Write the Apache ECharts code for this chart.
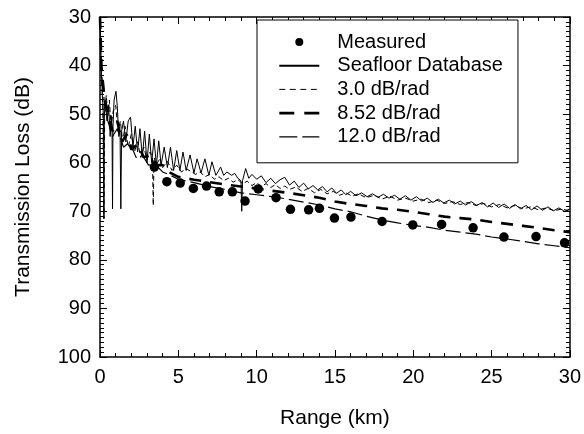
<!DOCTYPE html>
<html><head><meta charset="utf-8">
<script src="https://cdn.jsdelivr.net/npm/echarts@6/dist/echarts.min.js"></script>
<style>html,body{margin:0;padding:0;background:#fff}#c{width:584px;height:434px}</style>
</head><body><div id="c"></div>
<script>
var xTicks = [0, 5, 10, 15, 20, 25, 30];
var yTicks = [30, 40, 50, 60, 70, 80, 90, 100];
var measured = [[3.47,60.9],[4.27,63.9],[5.12,64.2],[5.96,65.3],[6.80,64.8],[7.61,66.0],[8.45,66.0],[9.26,67.9],[10.10,65.4],[11.24,67.2],[12.16,69.6],[13.32,69.7],[14.01,69.4],[14.97,71.4],[16.02,71.2],[18.01,72.1],[19.97,72.8],[21.81,72.7],[23.82,73.4],[25.79,75.3],[27.84,75.2],[29.66,76.5]];
var seafloor = [[0,30],[0.05,36.4],[0.1,41.8],[0.15,46.1],[0.2,49.3],[0.22,51.4],[0.25,71.5],[0.28,48.2],[0.35,47.1],[0.45,51.4],[0.55,48.2],[0.65,54.6],[0.72,50.3],[0.77,53.5],[0.8,69.5],[0.83,52.5],[0.9,47.1],[1.02,45.3],[1.1,48.2],[1.2,54.6],[1.28,53.5],[1.33,69.5],[1.38,53.5],[1.5,51.4],[1.65,55.7],[1.8,51.4],[1.95,50.6],[2.1,56.8],[2.25,52.5],[2.4,57.8],[2.55,53.0],[2.7,58.9],[2.85,53.5],[3.0,60.0],[3.15,54.1],[3.3,60.0],[3.45,55.1],[3.6,60.5],[3.75,55.5],[3.9,60.5],[4.1,56.8],[4.3,61.0],[4.5,56.8],[4.7,61.6],[4.9,57.5],[5.1,61.6],[5.3,57.8],[5.5,61.6],[5.75,58.4],[6.0,62.1],[6.2,59.2],[6.45,62.1],[6.7,59.2],[6.95,62.6],[7.15,59.8],[7.4,62.6],[7.7,60.9],[7.9,62.6],[8.1,61.9],[8.4,62.6],[8.6,62.2],[8.8,63.2],[9.0,63.7],[9.05,70.0],[9.1,63.7],[9.3,61.2],[9.5,63.2],[9.7,62.4],[10.0,63.4],[10.3,62.7],[10.6,64.1],[10.9,63.2],[11.2,64.3],[11.5,63.5],[11.8,63.0],[12.1,64.6],[12.4,63.8],[12.7,65.1],[13.0,64.2],[13.3,65.4],[13.6,64.7],[13.9,65.6],[14.2,64.9],[14.5,66.0],[14.8,65.2],[15.1,66.3],[15.4,65.6],[15.7,66.6],[16.0,65.9],[16.35,66.8],[16.7,66.2],[17.05,67.0],[17.4,66.4],[17.75,67.1],[18.1,66.5],[18.45,67.3],[18.8,66.7],[19.15,67.5],[19.5,66.8],[19.85,67.7],[20.2,67.0],[20.55,67.9],[20.9,67.3],[21.25,68.2],[21.6,67.5],[21.95,68.3],[22.3,67.7],[22.65,68.5],[23.0,67.9],[23.35,68.7],[23.7,68.0],[24.05,68.8],[24.4,68.2],[24.75,69.1],[25.1,68.3],[25.45,69.2],[25.8,68.5],[26.15,69.4],[26.5,68.6],[26.85,69.5],[27.2,68.8],[27.55,69.7],[27.9,68.9],[28.25,69.8],[28.6,69.1],[28.95,69.9],[29.3,69.3],[29.65,70.0],[30.0,69.5]];
var rad30 = [[0,30],[0.05,37.5],[0.1,42.8],[0.18,48.2],[0.25,71.5],[0.3,49.3],[0.4,46.1],[0.5,50.3],[0.6,47.1],[0.7,52.5],[0.85,49.3],[1.0,48.2],[1.15,53.5],[1.3,51.4],[1.45,55.7],[1.6,52.5],[1.8,56.8],[2.0,54.1],[2.2,57.8],[2.4,55.7],[2.6,58.9],[2.8,56.8],[3.0,59.4],[3.2,57.8],[3.35,58.9],[3.4,68.8],[3.45,58.9],[3.6,60.5],[3.8,59.1],[4.0,61.0],[4.3,59.7],[4.6,61.6],[4.9,60.5],[5.2,61.9],[5.5,61.2],[5.8,61.8],[6.1,62.4],[6.4,61.9],[6.7,62.9],[7.0,62.4],[7.3,63.4],[7.6,62.9],[7.9,63.7],[8.2,63.2],[8.5,64.0],[8.8,63.5],[9.1,64.3],[9.4,63.8],[9.7,64.7],[10.0,64.1],[10.3,64.9],[10.6,64.3],[10.9,65.1],[11.2,64.5],[11.5,65.3],[11.8,64.8],[12.1,65.5],[12.5,65.0],[12.9,65.9],[13.3,65.3],[13.7,66.2],[14.1,65.5],[14.5,66.4],[14.9,65.9],[15.3,66.7],[15.7,66.2],[16.1,66.9],[16.5,66.4],[17,67.2],[17.5,66.7],[18,67.5],[18.5,66.9],[19,67.7],[19.5,67.3],[20,67.9],[20.5,67.5],[21,68.2],[21.5,67.7],[22,68.4],[22.5,68.0],[23,68.6],[23.5,68.2],[24,68.8],[24.5,68.4],[25,69.1],[25.5,68.6],[26,69.3],[26.5,68.8],[27,69.5],[27.5,69.1],[28,69.7],[28.5,69.3],[29,69.9],[29.5,69.5],[30,70.0]];
var rad852 = [[0,30],[0.1,40.7],[0.3,47.1],[0.5,49.3],[0.8,53.5],[1.1,51.4],[1.4,55.7],[1.7,54.1],[2.0,57.3],[2.4,56.2],[2.8,58.9],[3.2,58.4],[3.6,60.5],[4.0,60.5],[4.5,62.1],[5,62.9],[5.5,63.2],[6,63.5],[7,64.0],[8,64.5],[9,64.9],[10,65.3],[11,65.8],[12,66.2],[13,66.7],[14,67.2],[15,68.0],[16,68.5],[17,68.9],[18,69.4],[19,69.7],[20,70.1],[21,70.6],[22,71.1],[23,71.4],[24,71.7],[25,72.2],[26,72.6],[27,73.0],[28,73.4],[29,73.9],[30,74.3]];
var rad120 = [[0,30],[0.1,41.8],[0.3,48.2],[0.5,51.4],[0.8,54.6],[1.1,53.0],[1.5,56.8],[1.9,55.7],[2.3,58.9],[2.7,58.4],[3.1,60.5],[3.5,60.3],[4,61.9],[4.5,62.6],[5,63.4],[6,64.1],[7,64.9],[8,65.5],[9,66.2],[10,66.6],[11,67.0],[12,67.5],[13,68.1],[14,68.7],[15,69.5],[16,70.1],[17,71.0],[18,71.8],[19,72.4],[20,72.9],[21,73.3],[22,73.9],[23,74.3],[24,74.7],[25,75.3],[26,75.7],[27,76.2],[28,76.7],[29,77.1],[30,77.5]];
var seriesNames = ['Measured', 'Seafloor Database', '3.0 dB/rad', '8.52 dB/rad', '12.0 dB/rad'];

var FONT = 'Liberation Sans, Arial, sans-serif';
var FS = 20;
var chart = echarts.init(document.getElementById('c'), null, {renderer: 'canvas'});
function axisX(pos, show) {
  return {
    type: 'value', position: pos, min: xTicks[0], max: xTicks[xTicks.length-1], interval: 5,
    axisLine: {show: true, onZero: false, lineStyle: {color: '#000', width: 1.5}},
    axisTick: {show: true, inside: true, length: 7, lineStyle: {color: '#000', width: 1}},
    minorTick: {show: true, splitNumber: 5, length: 4, lineStyle: {color: '#000', width: 1}},
    axisLabel: {show: show, color: '#000', fontSize: FS, fontFamily: FONT, margin: 10},
    splitLine: {show: false},
    name: show ? 'Range (km)' : '', nameLocation: 'middle', nameGap: 51,
    nameTextStyle: {color: '#000', fontSize: 21, fontFamily: FONT}
  };
}
function axisY(pos, show) {
  return {
    type: 'value', position: pos, inverse: true, min: yTicks[0], max: yTicks[yTicks.length-1], interval: 10,
    axisLine: {show: true, onZero: false, lineStyle: {color: '#000', width: 1.5}},
    axisTick: {show: true, inside: true, length: 7, lineStyle: {color: '#000', width: 1}},
    minorTick: {show: true, splitNumber: 10, length: 4, lineStyle: {color: '#000', width: 1}},
    axisLabel: {show: show, color: '#000', fontSize: FS, fontFamily: FONT, margin: 9},
    splitLine: {show: false},
    name: show ? 'Transmission Loss (dB)' : '', nameLocation: 'middle', nameGap: 66,
    nameTextStyle: {color: '#000', fontSize: 21, fontFamily: FONT}
  };
}
var lineBase = {type: 'line', showSymbol: false, symbol: 'none', animation: false, silent: true};
chart.setOption({
  animation: false,
  backgroundColor: '#fff',
  grid: {left: 100, right: 11, top: 17, bottom: 74},
  xAxis: [axisX('bottom', true), axisX('top', false)],
  yAxis: [axisY('left', true), axisY('right', false)],
  legend: {
    left: 257, top: 20, orient: 'vertical',
    data: [
      {name: seriesNames[0], icon: 'circle', itemStyle: {color: '#000', opacity: 1}},
      {name: seriesNames[1]},
      {name: seriesNames[2], lineStyle: {type: [6, 4.5], width: 1}},
      {name: seriesNames[3], lineStyle: {type: [15, 10], width: 2.6}},
      {name: seriesNames[4], lineStyle: {type: [18, 5], width: 1.2}}
    ],
    itemWidth: 40, itemHeight: 8, itemGap: 3.7,
    itemStyle: {opacity: 0},
    padding: [12, 15, 16, 21],
    borderColor: '#000', borderWidth: 1, backgroundColor: '#fff',
    selectedMode: false,
    textStyle: {color: '#000', fontSize: FS, fontFamily: FONT, lineHeight: 20, padding: [0, 0, 0, 13]}
  },
  series: [
    Object.assign({}, lineBase, {name: seriesNames[1], data: seafloor, lineStyle: {color: '#000', width: 1}, itemStyle: {color: '#000'}, z: 3}),
    Object.assign({}, lineBase, {name: seriesNames[2], data: rad30, lineStyle: {color: '#000', width: 1, type: [5, 3]}, itemStyle: {color: '#000'}, z: 3}),
    Object.assign({}, lineBase, {name: seriesNames[3], data: rad852, lineStyle: {color: '#000', width: 2.6, type: [12, 9]}, itemStyle: {color: '#000'}, z: 3}),
    Object.assign({}, lineBase, {name: seriesNames[4], data: rad120, lineStyle: {color: '#000', width: 1.2, type: [15, 5]}, itemStyle: {color: '#000'}, z: 3}),
    {type: 'scatter', name: seriesNames[0], data: measured, symbol: 'circle', symbolSize: 9.5, itemStyle: {color: '#000', opacity: 1}, animation: false, silent: true, z: 4}
  ]
});
</script></body></html>
